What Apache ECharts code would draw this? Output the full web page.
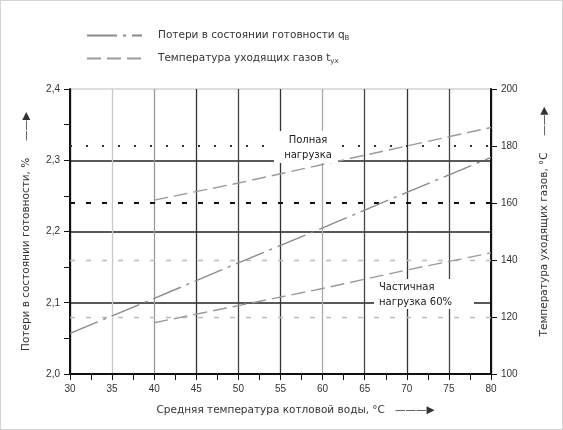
<!DOCTYPE html>
<html><head><meta charset="utf-8">
<script src="https://cdn.jsdelivr.net/npm/echarts@6/dist/echarts.min.js"></script>
<style>html,body{margin:0;padding:0;background:#fff}#c{width:563px;height:430px;box-sizing:border-box;border:1px solid #d4d4d4}</style>
</head><body><div id="c"></div>
<script>
// ---- data ----
const lossName = 'Потери в состоянии готовности';
const tempName = 'Температура уходящих газов';
const lossX = [30, 40, 50, 60, 70, 80];
const lossY = [2.057, 2.106, 2.156, 2.205, 2.255, 2.304];
const tempX = [40, 50, 60, 70, 80];
const tempFullY = [161, 167, 173.5, 180, 186.5];
const tempPartY = [118, 124, 130, 136.5, 142.5];
const xTicks = [30, 35, 40, 45, 50, 55, 60, 65, 70, 75, 80];
const leftTicks = [2.0, 2.1, 2.2, 2.3, 2.4];
const rightTicks = [100, 120, 140, 160, 180, 200];
const refLines = [120, 140, 160, 180];
const labelFull = 'Полная\nнагрузка';
const labelPart = 'Частичная\nнагрузка 60%';

const pair = (xs, ys) => xs.map((x, i) => [x, ys[i]]);
const font = '"Liberation Sans", Arial, sans-serif';
const nfont = '"DejaVu Sans", sans-serif';
const txt = '#333';
const refStyles = {
  120: { color: '#bbb', width: 1.3, type: [5, 11] },
  140: { color: '#bbb', width: 1.3, type: [5, 11] },
  160: { color: '#111', width: 2, type: [5, 11] },
  180: { color: '#333', width: 2, type: [2, 14] }
};

const chart = echarts.init(document.getElementById('c'));
chart.setOption({
  animation: false,
  textStyle: { fontFamily: font },
  grid: { left: 69, right: 71, top: 88, bottom: 55, show: true, borderColor: '#ccc', borderWidth: 1 },
  legend: {
    orient: 'vertical', left: 80, top: 24, itemWidth: 55, itemHeight: 10, itemGap: 11,
    data: [lossName, tempName],
    itemStyle: { opacity: 0 },
    formatter: n => n === lossName ? '{t|' + n + ' q}{s|B}' : '{t|' + n + ' t}{s|ух}',
    textStyle: { color: txt, fontSize: 10.5, padding: [0, 0, 0, 11],
      rich: { t: { fontSize: 10.5, color: txt, fontFamily: nfont }, s: { fontSize: 7, color: txt, fontFamily: nfont, verticalAlign: 'bottom', padding: [6, 0, 0, 0] } } }
  },
  xAxis: {
    type: 'value', min: xTicks[0], max: xTicks[xTicks.length - 1], interval: 5,
    name: 'Средняя температура котловой воды, °C   ———▶', nameLocation: 'middle', nameGap: 31,
    nameTextStyle: { fontSize: 10.5, color: txt, fontFamily: nfont, padding: [0, 0, 0, 30] },
    axisLine: { lineStyle: { color: '#111', width: 2 } },
    axisTick: { show: true, length: 6, lineStyle: { color: '#111' } },
    minorTick: { show: true, splitNumber: 2, length: 6, lineStyle: { color: '#111' } },
    axisLabel: { fontSize: 10, color: txt, margin: 10 },
    splitLine: { show: true, lineStyle: { width: 1.3, color: ['#000', '#c8c8c8', '#999', '#333', '#444', '#333', '#aaa', '#444', '#333', '#444', '#000'] } }
  },
  yAxis: [{
    type: 'value', min: leftTicks[0], max: leftTicks[leftTicks.length - 1], interval: 0.1,
    name: 'Потери в состоянии готовности, %     ——▶', nameLocation: 'middle', nameRotate: 90, nameGap: 38,
    nameTextStyle: { fontSize: 10.5, color: txt, fontFamily: nfont },
    axisLine: { show: true, lineStyle: { color: '#111', width: 2 } },
    axisTick: { show: true, length: 6, lineStyle: { color: '#111' } },
    minorTick: { show: true, splitNumber: 2, length: 6, lineStyle: { color: '#111' } },
    axisLabel: { fontSize: 10, color: txt, margin: 10, formatter: v => v.toFixed(1).replace('.', ',') },
    splitLine: { show: true, lineStyle: { width: 1.5, color: ['#222', '#222', '#222', '#222', '#ddd'] } }
  }, {
    type: 'value', position: 'right', min: rightTicks[0], max: rightTicks[rightTicks.length - 1], interval: 20,
    name: 'Температура уходящих газов, °C     ——▶', nameLocation: 'middle', nameRotate: 90, nameGap: 48,
    nameTextStyle: { fontSize: 10.5, color: txt, fontFamily: nfont, padding: [0, 0, 0, 20] },
    axisLine: { show: true, lineStyle: { color: '#111', width: 2 } },
    axisTick: { show: true, length: 6, lineStyle: { color: '#111' } },
    axisLabel: { fontSize: 10, color: txt, margin: 10 },
    splitLine: { show: false }
  }],
  series: [{
    name: lossName, type: 'line', yAxisIndex: 0, data: pair(lossX, lossY),
    showSymbol: false, symbol: 'none', z: 5, itemStyle: { color: '#8a8a8a' },
    lineStyle: { color: '#8a8a8a', width: 1.4, type: [30, 6, 3, 6] }
  }, {
    name: tempName, type: 'line', yAxisIndex: 1, data: pair(tempX, tempFullY),
    showSymbol: false, symbol: 'none', z: 5, itemStyle: { color: '#9a9a9a' },
    lineStyle: { color: '#9a9a9a', width: 1.4, type: [14, 6] },
    markLine: {
      silent: true, symbol: 'none', animation: false, z: 1,
      label: { show: false },
      data: refLines.map(v => ({ yAxis: v, lineStyle: refStyles[v] }))
    }
  }, {
    name: tempName, type: 'line', yAxisIndex: 1, data: pair(tempX, tempPartY),
    showSymbol: false, symbol: 'none', z: 5, itemStyle: { color: '#9a9a9a' },
    lineStyle: { color: '#9a9a9a', width: 1.4, type: [14, 6] }
  }],
  graphic: [{
    type: 'rect', z: 50, shape: { x: 273, y: 130, width: 64, height: 32 }, style: { fill: '#fff' }
  }, {
    type: 'text', z: 51, x: 307, y: 132,
    style: { text: labelFull, fill: '#222', font: '10px ' + nfont, textAlign: 'center', lineHeight: 15 }
  }, {
    type: 'rect', z: 50, shape: { x: 373, y: 278, width: 100, height: 30 }, style: { fill: '#fff' }
  }, {
    type: 'text', z: 51, x: 378, y: 279,
    style: { text: labelPart, fill: '#222', font: '10px ' + nfont, textAlign: 'left', lineHeight: 15 }
  }]
});
</script></body></html>
